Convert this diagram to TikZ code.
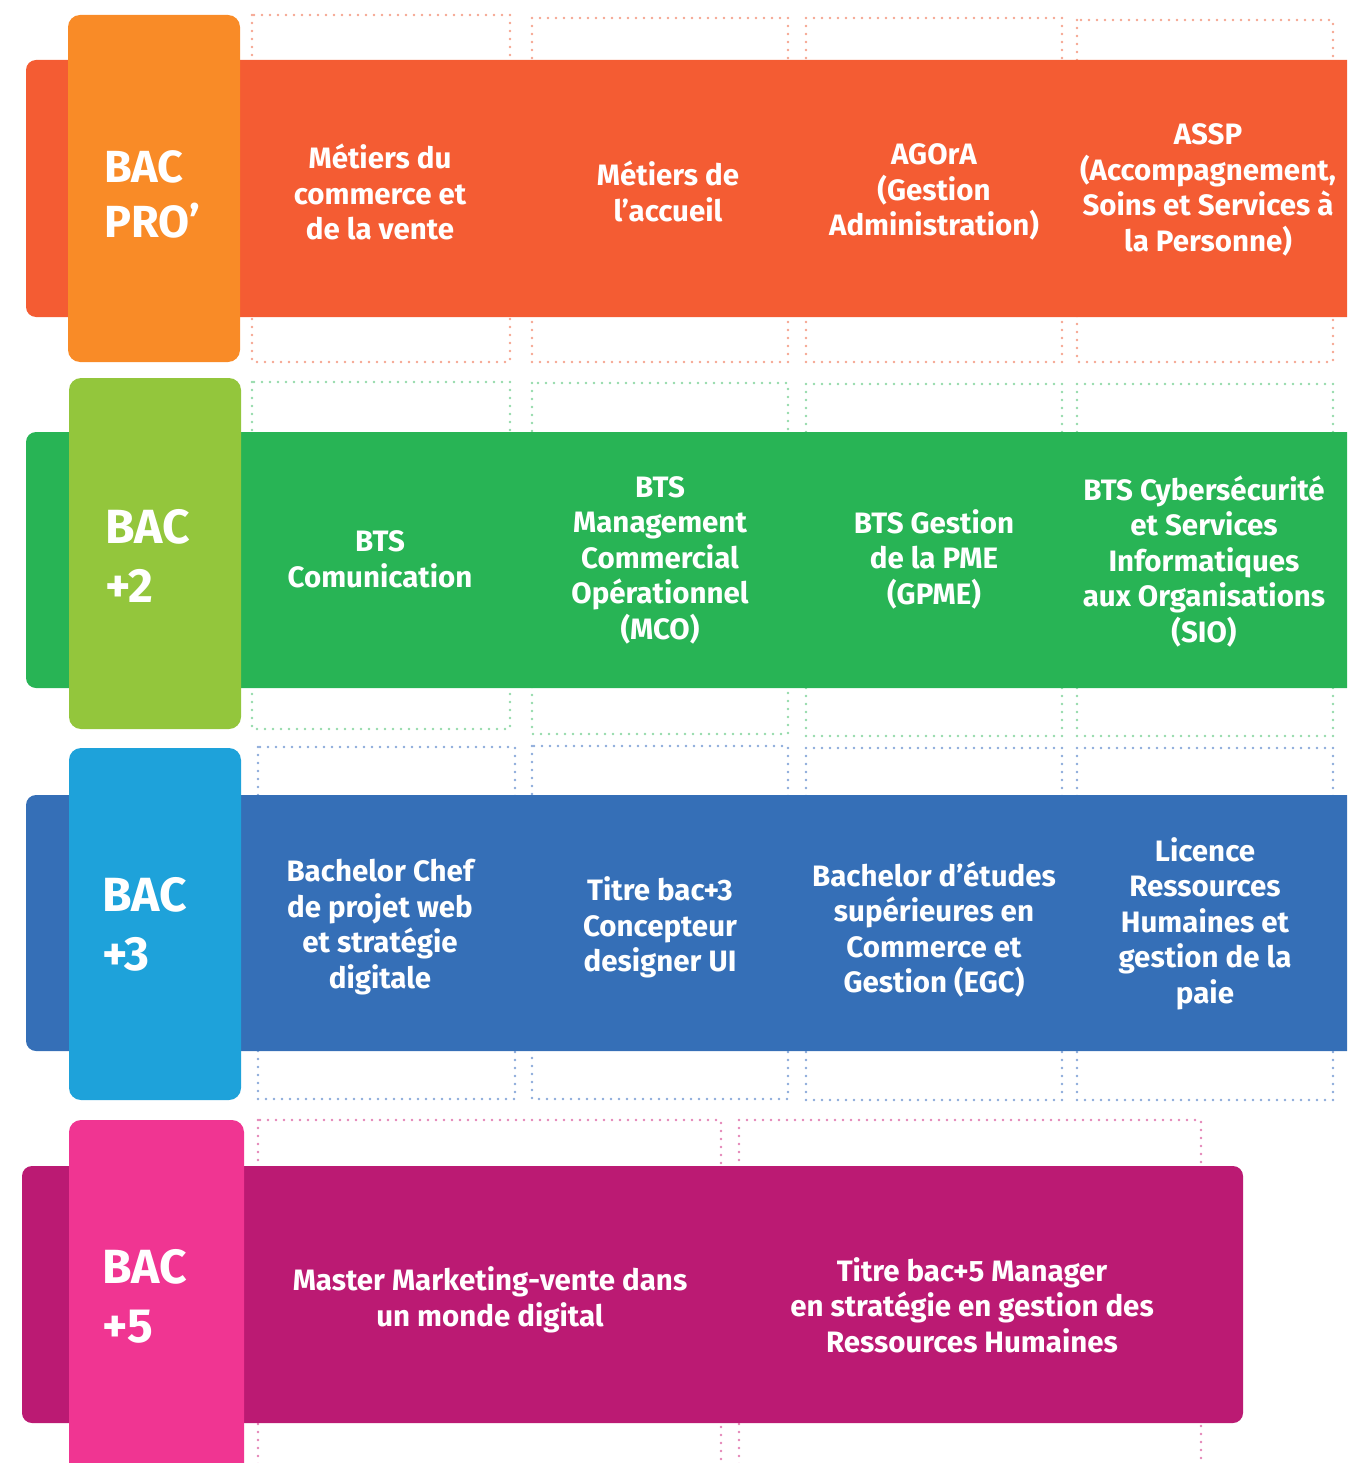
\documentclass[tikz,border=0pt]{standalone}
\usepackage{fontspec}
\setmainfont{Fira Sans}
\definecolor{proBand}{HTML}{F45C33}
\definecolor{proTab}{HTML}{F98B27}
\definecolor{proDot}{HTML}{F5A58F}
\definecolor{deuxBand}{HTML}{28B455}
\definecolor{deuxTab}{HTML}{93C63C}
\definecolor{deuxDot}{HTML}{93D9A9}
\definecolor{troisBand}{HTML}{356FB7}
\definecolor{troisTab}{HTML}{1EA2DA}
\definecolor{troisDot}{HTML}{8AA9D9}
\definecolor{cinqBand}{HTML}{BB1A73}
\definecolor{cinqTab}{HTML}{F03592}
\definecolor{cinqDot}{HTML}{E383B6}
\begin{document}
\begin{tikzpicture}[x=1pt,y=-1pt,band/.style={rectangle, rounded corners=10pt, inner sep=0pt, minimum height=257pt},levtab/.style={rectangle, rounded corners=12pt, minimum width=172pt, inner sep=0pt},levlabel/.style={anchor=west, inner sep=0pt, text=white, align=left, font=\fontsize{48}{59}\selectfont\bfseries},dotbox/.style={line width=2.6pt, line cap=round, dash pattern=on 0pt off 8pt},cell/.style={text=white, align=center, inner sep=0pt, font=\fontsize{29.5}{35.5}\selectfont\bfseries},]
            \clip (0,0) rectangle (1347,1463);
            % BAC PRO'
            \draw[dotbox, draw=proDot] (252,15) rectangle (510,362);
            \draw[dotbox, draw=proDot] (532,18) rectangle (788,362);
            \draw[dotbox, draw=proDot] (806,18) rectangle (1062,362);
            \draw[dotbox, draw=proDot] (1077,20) rectangle (1333,362);
            \node[band, fill=proBand, minimum width=1334pt] (bandpro) at (693,188.5) {};
            \node[levtab, fill=proTab, minimum height=347pt] (tabpro) at (154,188.5) {};
            \node[levlabel, font=\fontsize{45}{55}\selectfont\bfseries] (lvlpro) at (104,194) {BAC\\PRO’};
            \node[cell] (pro1) at (380,192) {Métiers du\\commerce et\\de la vente};
            \node[cell] (pro2) at (668,191.5) {Métiers de\\l’accueil};
            \node[cell] (pro3) at (934,192) {AGOrA\\(Gestion\\Administration)};
            \node[cell] (pro4) at (1208,190) {ASSP\\(Accompagnement,\\Soins et Services à\\la Personne)};
            % BAC +2
            \draw[dotbox, draw=deuxDot] (252,382) rectangle (510,729);
            \draw[dotbox, draw=deuxDot] (532,383) rectangle (788,734);
            \draw[dotbox, draw=deuxDot] (806,384) rectangle (1062,736);
            \draw[dotbox, draw=deuxDot] (1077,384) rectangle (1333,736);
            \node[band, fill=deuxBand, minimum width=1334pt, minimum height=256pt] (banddeux) at (693,560) {};
            \node[levtab, fill=deuxTab, minimum height=351pt] (tabdeux) at (155,553.5) {};
            \node[levlabel] (lvldeux) at (105,556) {BAC\\+2};
            \node[cell] (deux1) at (380,559.5) {BTS\\Comunication};
            \node[cell] (deux2) at (660,560) {BTS\\Management\\Commercial\\Opérationnel\\(MCO)};
            \node[cell] (deux3) at (934,559) {BTS Gestion\\de la PME\\(GPME)};
            \node[cell] (deux4) at (1204,561.5) {BTS Cybersécurité\\et Services\\Informatiques\\aux Organisations\\(SIO)};
            % BAC +3
            \draw[dotbox, draw=troisDot] (258,747) rectangle (515,1099);
            \draw[dotbox, draw=troisDot] (532,746) rectangle (788,1099);
            \draw[dotbox, draw=troisDot] (806,748) rectangle (1062,1100);
            \draw[dotbox, draw=troisDot] (1077,748) rectangle (1333,1100);
            \node[band, fill=troisBand, minimum width=1334pt, minimum height=256pt] (bandtrois) at (693,923) {};
            \node[levtab, fill=troisTab, minimum height=352pt] (tabtrois) at (155,924) {};
            \node[levlabel] (lvltrois) at (102,924) {BAC\\+3};
            \node[cell] (trois1) at (380,927) {Bachelor Chef\\de projet web\\et stratégie\\digitale};
            \node[cell] (trois2) at (660,927.5) {Titre bac+3\\Concepteur\\designer UI};
            \node[cell] (trois3) at (934,929.5) {Bachelor d’études\\supérieures en\\Commerce et\\Gestion (EGC)};
            \node[cell] (trois4) at (1205,923.5) {Licence\\Ressources\\Humaines et\\gestion de la\\paie};
            % BAC +5
            \draw[dotbox, draw=cinqDot] (258,1120) rectangle (721,1490);
            \draw[dotbox, draw=cinqDot] (739,1120) rectangle (1201,1490);
            \node[band, fill=cinqBand, minimum width=1221pt] (bandcinq) at (632.5,1294.5) {};
            \node[levtab, fill=cinqTab, minimum width=175pt, minimum height=370pt] (tabcinq) at (156.5,1305) {};
            \node[levlabel] (lvlcinq) at (102,1296) {BAC\\+5};
            \node[cell] (cinq1) at (490,1300) {Master Marketing-vente dans\\un monde digital};
            \node[cell] (cinq2) at (972,1305) {Titre bac+5 Manager\\en stratégie en gestion des\\Ressources Humaines};
        \end{tikzpicture}
\end{document}
